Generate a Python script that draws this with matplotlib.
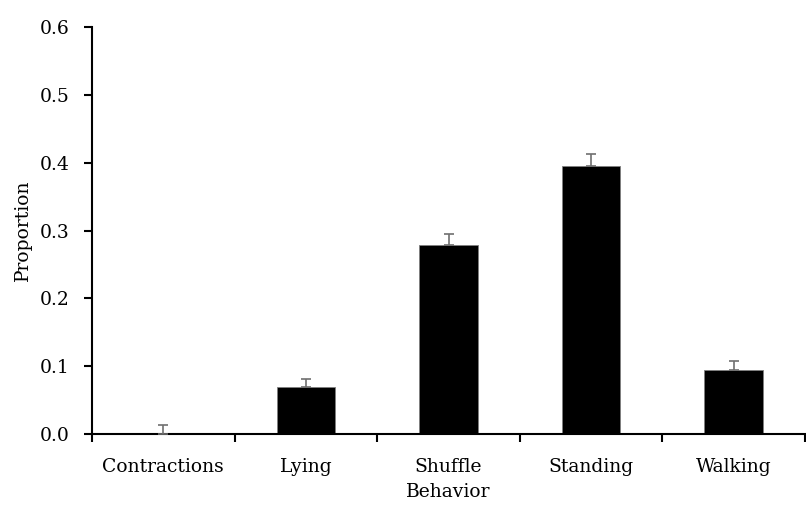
import numpy as np
import matplotlib.pyplot as plt

behaviors = ["Contractions", "Lying", "Shuffle", "Standing", "Walking"]
proportion = [0.0, 0.070, 0.279, 0.395, 0.095]
error = [0.013, 0.011, 0.016, 0.018, 0.012]

plt.rcParams["font.family"] = ["DejaVu Serif"]
fs = 13.5

fig = plt.figure(figsize=(8.06, 5.11), dpi=100)
ax = fig.add_axes([92 / 806, 1 - 434 / 511, 713 / 806, 407 / 511])

x = np.arange(len(behaviors))
ax.bar(x, proportion, width=0.41, color="black", edgecolor="#7f7f7f", linewidth=0.6, zorder=2)
ax.errorbar(x, proportion, yerr=[np.zeros(len(error)), error], fmt="none",
            ecolor="#6f6f6f", elinewidth=1.2, capsize=3.5, capthick=1.2, zorder=3)

ax.set_xlim(-0.5, len(behaviors) - 0.5)
ax.set_ylim(0, 0.6)
ax.set_yticks(np.arange(0, 0.61, 0.1))
ax.set_yticklabels([f"{v:.1f}" for v in np.arange(0, 0.61, 0.1)])

# category labels centred, tick marks at the boundaries between categories
ax.set_xticks(np.arange(-0.5, len(behaviors), 1.0))
ax.set_xticklabels([])
ax.set_xticks(x, minor=True)
ax.set_xticklabels(behaviors, minor=True)
ax.tick_params(axis="x", which="minor", length=0, pad=17, labelsize=fs)
ax.tick_params(axis="x", which="major", length=6, width=1.5, direction="out")
ax.tick_params(axis="y", length=6, width=1.5, direction="out", labelsize=fs, pad=10)

for side in ["top", "right"]:
    ax.spines[side].set_visible(False)
ax.spines["left"].set_linewidth(1.5)
ax.spines["bottom"].set_linewidth(1.5)

ax.set_xlabel("Behavior", fontsize=fs, labelpad=5)
ax.set_ylabel("Proportion", fontsize=fs, labelpad=6)

fig.savefig("out.png", dpi=100)
